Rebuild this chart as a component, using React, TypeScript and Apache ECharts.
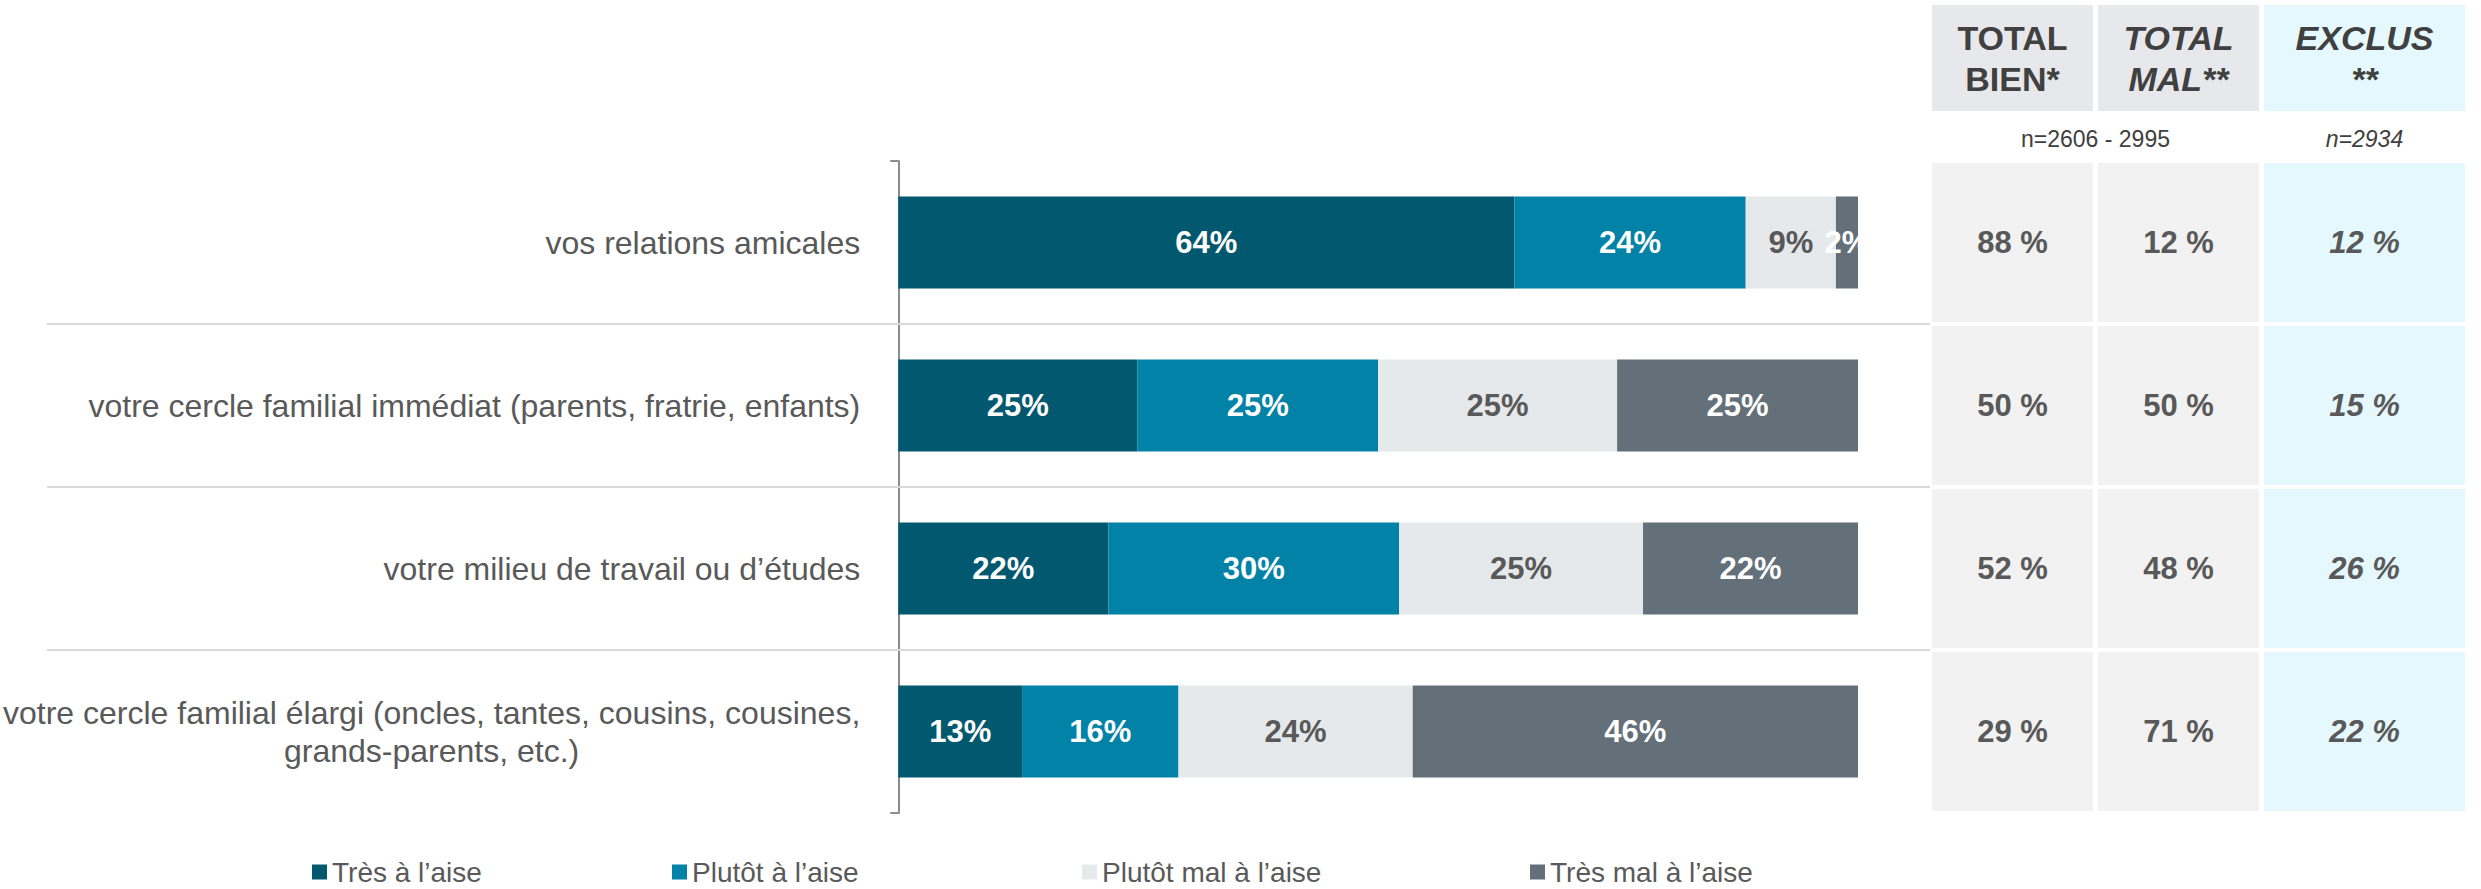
import React, { useEffect, useRef } from "react";
import * as echarts from "echarts";

// ---- data ----
const categories = [
  "vos relations amicales",
  "votre cercle familial immédiat (parents, fratrie, enfants)",
  "votre milieu de travail ou d’études",
  "votre cercle familial élargi (oncles, tantes, cousins, cousines,\ngrands-parents, etc.)",
];
const seriesNames = ["Très à l’aise", "Plutôt à l’aise", "Plutôt mal à l’aise", "Très mal à l’aise"];
const tresAise = [64.2, 24.9, 21.9, 12.9];
const plutotAise = [24.1, 25.1, 30.3, 16.3];
const plutotMal = [9.4, 24.9, 25.4, 24.4];
const tresMal = [2.3, 25.1, 22.4, 46.4];
const totalBien = [88, 50, 52, 29];
const totalMal = [12, 50, 48, 71];
const exclus = [12, 15, 26, 22];
const headers = ["TOTAL\nBIEN*", "TOTAL\nMAL**", "EXCLUS\n**"];
const sampleNotes = ["n=2606 - 2995", "n=2934"];

// ---- layout / style ----
const FONT = "'Liberation Sans', Arial, sans-serif";
const colors = ["#02586E", "#0282A6", "#E6E9EC", "#636F79"];
const labelColors = ["#FFFFFF", "#FFFFFF", "#595959", "#FFFFFF"];
const GRID_LEFT = 896;
const GRID_TOP = 161;
const GRID_W = 962;
const GRID_H = 652;
const BAND = GRID_H / categories.length;
const colX = [1932, 2098, 2264];
const colW = [161, 161, 201];
const legendLeft = [312, 672, 1082, 1530];

export default function App() {
  const ref = useRef<HTMLDivElement>(null);
  useEffect(() => {
    if (!ref.current) return;
    const chart = echarts.init(ref.current, undefined, { renderer: "svg" });
    const seriesData = [tresAise, plutotAise, plutotMal, tresMal];

    const graphic: any[] = [];
    // separators
    for (let i = 1; i < categories.length; i++) {
      const y = GRID_TOP + i * BAND;
      graphic.push({
        type: "line",
        shape: { x1: 47, y1: y, x2: 1930, y2: y },
        style: { stroke: "#D9D9D9", lineWidth: 2 },
        z: 1,
      });
    }
    // headers
    const headerFills = ["#E6E8EB", "#E6E8EB", "#E5F8FE"];
    const headerItalic = ["normal", "italic", "italic"];
    headers.forEach((h, c) => {
      graphic.push({
        type: "rect",
        shape: { x: colX[c], y: 5, width: colW[c], height: 106 },
        style: { fill: headerFills[c] },
      });
      graphic.push({
        type: "text",
        x: colX[c] + colW[c] / 2,
        y: 58,
        style: {
          text: h,
          align: "center",
          verticalAlign: "middle",
          fontFamily: FONT,
          fontSize: 34,
          fontWeight: "bold",
          fontStyle: headerItalic[c],
          lineHeight: 41,
          fill: "#404040",
        },
      });
    });
    graphic.push({
      type: "text",
      x: (colX[0] + colX[1] + colW[1]) / 2,
      y: 139,
      style: { text: sampleNotes[0], align: "center", verticalAlign: "middle", fontFamily: FONT, fontSize: 23, fill: "#404040" },
    });
    graphic.push({
      type: "text",
      x: colX[2] + colW[2] / 2,
      y: 139,
      style: { text: sampleNotes[1], align: "center", verticalAlign: "middle", fontFamily: FONT, fontSize: 23, fontStyle: "italic", fill: "#404040" },
    });
    // body
    const bodyCols = [totalBien, totalMal, exclus];
    const bodyFills = ["#F2F2F2", "#F2F2F2", "#E5F8FE"];
    bodyCols.forEach((vals, c) => {
      vals.forEach((v, r) => {
        const y0 = GRID_TOP + r * BAND + 2;
        graphic.push({
          type: "rect",
          shape: { x: colX[c], y: y0, width: colW[c], height: BAND - 4 },
          style: { fill: bodyFills[c] },
        });
        graphic.push({
          type: "text",
          x: colX[c] + colW[c] / 2,
          y: GRID_TOP + r * BAND + BAND / 2,
          style: {
            text: v + " %",
            align: "center",
            verticalAlign: "middle",
            fontFamily: FONT,
            fontSize: 31,
            fontWeight: "bold",
            fontStyle: c === 2 ? "italic" : "normal",
            fill: "#595959",
          },
        });
      });
    });

    chart.setOption({
      animation: false,
      grid: { left: GRID_LEFT, top: GRID_TOP, width: GRID_W, height: GRID_H, containLabel: false },
      xAxis: { type: "value", min: 0, max: 100, show: false },
      yAxis: {
        type: "category",
        data: categories,
        inverse: true,
        axisLine: { show: true, lineStyle: { color: "#8C8C8C", width: 2 } },
        axisTick: { show: true, length: 8, lineStyle: { color: "#8C8C8C", width: 2 } },
        axisLabel: {
          margin: 38,
          fontFamily: FONT,
          fontSize: 32,
          color: "#595959",
          lineHeight: 38,
          formatter: (val: string) => {
            const parts = val.split("\n");
            if (parts.length === 1) return "{a|" + val + "}";
            return "{a|" + parts[0] + "}\n{b|" + parts[1] + "}";
          },
          rich: {
            a: { fontFamily: FONT, fontSize: 32, color: "#595959", lineHeight: 38 },
            b: { fontFamily: FONT, fontSize: 32, color: "#595959", lineHeight: 38, align: "center" },
          },
        },
        splitLine: { show: false },
      },
      legend: seriesNames.map((n, i) => ({
        data: [n],
        left: legendLeft[i],
        top: 858,
        padding: 0,
        icon: "rect",
        itemWidth: 15,
        itemHeight: 15,
        selectedMode: false,
        textStyle: { fontFamily: FONT, fontSize: 28, color: "#595959" },
      })),
      series: seriesNames.map((n, i) => ({
        name: n,
        type: "bar",
        stack: "total",
        barWidth: 92,
        data: seriesData[i],
        itemStyle: { color: colors[i] },
        label: {
          show: true,
          position: "inside",
          formatter: (p: any) => Math.round(p.value) + "%",
          fontFamily: FONT,
          fontSize: 31,
          fontWeight: "bold",
          color: labelColors[i],
        },
      })),
      graphic,
    });
    return () => chart.dispose();
  }, []);
  return <div ref={ref} style={{ position: "absolute", left: 0, top: 0, width: 2481, height: 889, background: "#fff" }} />;
}
